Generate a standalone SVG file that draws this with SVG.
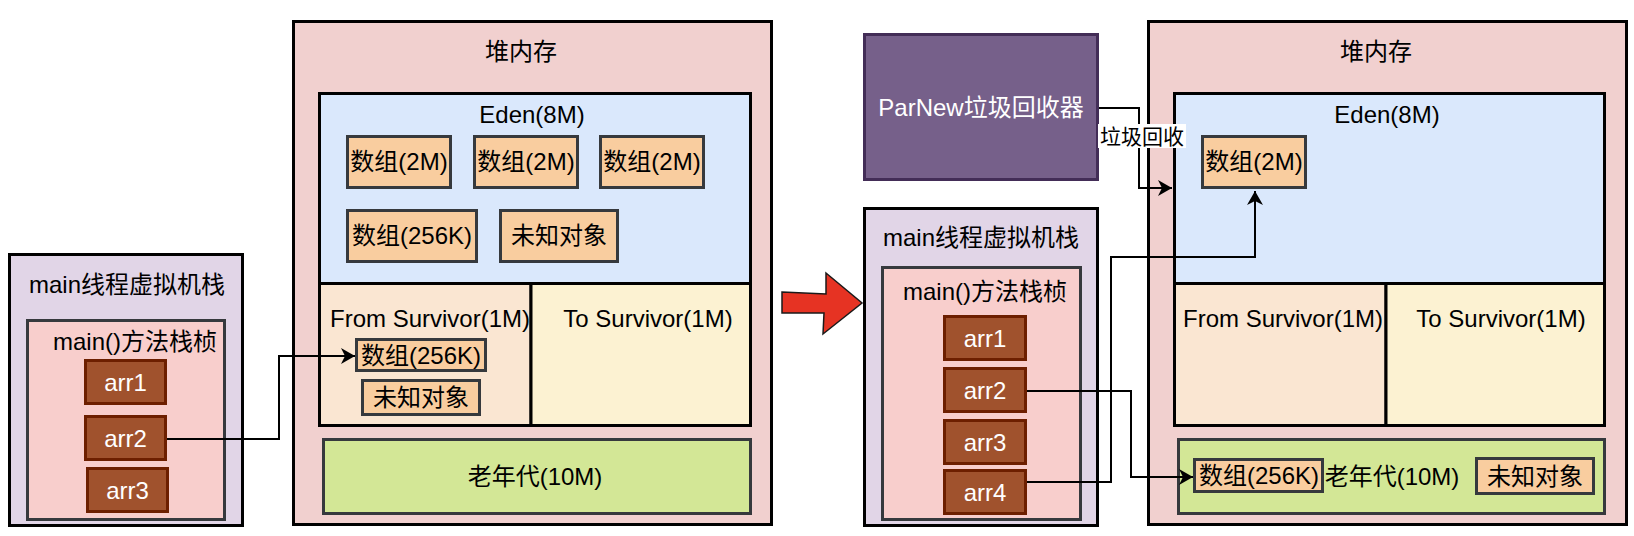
<svg xmlns="http://www.w3.org/2000/svg" width="1634" height="536" viewBox="0 0 1634 536">
<style>
text{font-family:"Liberation Sans","Noto Sans CJK SC",sans-serif;font-size:24px;fill:#000;text-anchor:middle}
.outer{stroke:#000;stroke-width:3}
.stack{fill:#e1d5e7}
.frame{fill:#f8cecc;stroke:#36393d;stroke-width:3}
.heap{fill:#f1d0cf}
.eden{fill:#dae8fc}
.from{fill:#fae6d2}
.to{fill:#fcf2d2}
.old{fill:#d3e796;stroke:#36393d;stroke-width:3}
.obj{fill:#f9cd9f;stroke:#36393d;stroke-width:3}
.ref{fill:#a0522d;stroke:#6d1f00;stroke-width:3}
.ref-t{fill:#fff}
.conn{fill:none;stroke:#000;stroke-width:2}
</style>
<defs>
<marker id="arrow" viewBox="0 0 16 16" refX="15" refY="8" markerWidth="16" markerHeight="16" markerUnits="userSpaceOnUse" orient="auto">
<path d="M1,0 L15,8 L1,16 L5,8 Z" fill="#000"/>
</marker>
</defs>

<!-- Left: main thread stack -->
<g id="left-stack">
<rect class="outer stack" x="9.5" y="254.5" width="233" height="271"/>
<text x="127" y="293">main线程虚拟机栈</text>
</g>
<g id="left-frame">
<rect class="frame" x="27.5" y="320.5" width="197" height="199"/>
<text x="135" y="350">main()方法栈桢</text>
</g>
<g id="left-arr1"><rect class="ref" x="85.5" y="360.5" width="80" height="43"/><text class="ref-t" x="125.5" y="390.5">arr1</text></g>
<g id="left-arr2"><rect class="ref" x="85.5" y="416.5" width="80" height="43"/><text class="ref-t" x="125.5" y="446.5">arr2</text></g>
<g id="left-arr3"><rect class="ref" x="87.5" y="468.5" width="80" height="43"/><text class="ref-t" x="127.5" y="498.5">arr3</text></g>

<!-- Left heap -->
<g id="left-heap">
<rect class="outer heap" x="293.5" y="21.5" width="478" height="503"/>
<text x="521" y="60">堆内存</text>
</g>
<g id="left-eden">
<rect class="outer eden" x="319.5" y="93.5" width="431" height="190"/>
<text x="532" y="123">Eden(8M)</text>
</g>
<g id="left-from">
<rect class="outer from" x="319.5" y="283.5" width="211.5" height="142"/>
<text x="430" y="327">From Survivor(1M)</text>
</g>
<g id="left-to">
<rect class="outer to" x="531" y="283.5" width="219.5" height="142"/>
<text x="648" y="327">To Survivor(1M)</text>
</g>
<g id="left-e1"><rect class="obj" x="347.5" y="136.5" width="103" height="51"/><text x="399" y="170">数组(2M)</text></g>
<g id="left-e2"><rect class="obj" x="474.5" y="136.5" width="103" height="51"/><text x="526" y="170">数组(2M)</text></g>
<g id="left-e3"><rect class="obj" x="600.5" y="136.5" width="103" height="51"/><text x="652" y="170">数组(2M)</text></g>
<g id="left-e4"><rect class="obj" x="347.5" y="210.5" width="129" height="51"/><text x="412" y="244">数组(256K)</text></g>
<g id="left-e5"><rect class="obj" x="500.5" y="210.5" width="117" height="51"/><text x="559" y="244">未知对象</text></g>
<g id="left-s1"><rect class="obj" x="356.5" y="339.5" width="129" height="31"/><text x="421" y="364">数组(256K)</text></g>
<g id="left-s2"><rect class="obj" x="362.5" y="380.5" width="117" height="34"/><text x="421" y="406">未知对象</text></g>
<g id="left-old">
<rect class="old" x="323.5" y="439.5" width="427" height="74"/>
<text x="535" y="485">老年代(10M)</text>
</g>

<!-- Transition arrow -->
<g id="transition-arrow">
<polygon points="782,292 826,294 826,273 862,303 823,334 824,313 782,313" fill="#e63323" stroke="#1a1a1a" stroke-width="1.5" stroke-linejoin="miter"/>
</g>

<!-- ParNew -->
<g id="parnew">
<rect x="864.5" y="34.5" width="233" height="145" fill="#76608a" stroke="#432d57" stroke-width="3"/>
<text x="981" y="116" fill="#fff" style="fill:#fff">ParNew垃圾回收器</text>
</g>

<!-- Right stack -->
<g id="right-stack">
<rect class="outer stack" x="864.5" y="208.5" width="233" height="317"/>
<text x="981" y="246">main线程虚拟机栈</text>
</g>
<g id="right-frame">
<rect class="frame" x="882.5" y="267.5" width="198" height="252"/>
<text x="985" y="300">main()方法栈桢</text>
</g>
<g id="right-arr1"><rect class="ref" x="944.5" y="316.5" width="81" height="43"/><text class="ref-t" x="985" y="347">arr1</text></g>
<g id="right-arr2"><rect class="ref" x="944.5" y="368.5" width="81" height="43"/><text class="ref-t" x="985" y="399">arr2</text></g>
<g id="right-arr3"><rect class="ref" x="944.5" y="420.5" width="81" height="43"/><text class="ref-t" x="985" y="451">arr3</text></g>
<g id="right-arr4"><rect class="ref" x="944.5" y="470.5" width="81" height="43"/><text class="ref-t" x="985" y="501">arr4</text></g>

<!-- Right heap -->
<g id="right-heap">
<rect class="outer heap" x="1148.5" y="21.5" width="478" height="503"/>
<text x="1376" y="60">堆内存</text>
</g>
<g id="right-eden">
<rect class="outer eden" x="1174.5" y="93.5" width="430" height="190"/>
<text x="1387" y="123">Eden(8M)</text>
</g>
<g id="right-from">
<rect class="outer from" x="1174.5" y="283.5" width="211.5" height="142"/>
<text x="1283" y="327">From Survivor(1M)</text>
</g>
<g id="right-to">
<rect class="outer to" x="1386" y="283.5" width="218.5" height="142"/>
<text x="1501" y="327">To Survivor(1M)</text>
</g>
<g id="right-e1"><rect class="obj" x="1202.5" y="136.5" width="103" height="51"/><text x="1254" y="170">数组(2M)</text></g>
<g id="right-old">
<rect class="old" x="1178.5" y="439.5" width="426" height="74"/>
<text x="1392" y="485">老年代(10M)</text>
</g>
<g id="right-o1"><rect class="obj" x="1194.5" y="459.5" width="128" height="32"/><text x="1259" y="484">数组(256K)</text></g>
<g id="right-o2"><rect class="obj" x="1476.5" y="458.5" width="117" height="35"/><text x="1535" y="485">未知对象</text></g>

<!-- Connectors -->
<g id="connectors">
<path class="conn" d="M167,439 H279 V356 H355" marker-end="url(#arrow)"/>
<path class="conn" d="M1099,108 H1139 V188 H1172" marker-end="url(#arrow)"/>
<path class="conn" d="M1027,391 H1131 V477 H1193" marker-end="url(#arrow)"/>
<path class="conn" d="M1027,482 H1111 V257 H1255 V191" marker-end="url(#arrow)"/>
<rect x="1098" y="124" width="88" height="24" fill="#fff"/>
<text x="1142" y="144" style="font-size:21px">垃圾回收</text>
</g>
</svg>
